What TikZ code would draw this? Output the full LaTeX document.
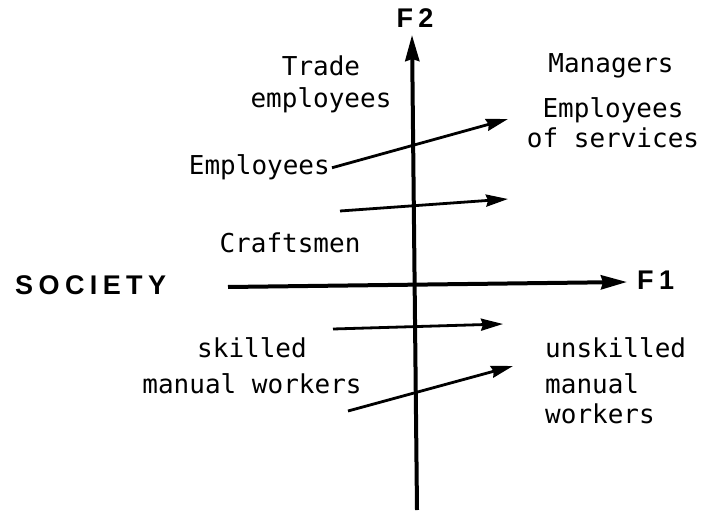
\documentclass[tikz,border=0pt]{standalone}
\usepackage{fontspec}
\newfontfamily\axisfont[LetterSpace=20]{Liberation Sans Bold}
\newfontfamily\typefont{DejaVu Sans Mono}
\usetikzlibrary{arrows.meta}

\begin{document}
\begin{tikzpicture}[x=1pt, y=-1pt,
        axis/.style={line width=4pt, -{Stealth[length=26pt, width=14pt, inset=2pt]}},
        move arrow/.style={line width=2.8pt, -{Stealth[length=22pt, width=12pt, inset=2pt]}},
        axis label/.style={font=\axisfont\fontsize{27}{30}\selectfont, inner sep=0pt},
        group/.style={font=\typefont\fontsize{26}{32}\selectfont, inner sep=0pt}]
        \useasboundingbox (0,0) rectangle (703,513);

        % axes
        \coordinate (f2 base) at (417,510);
        \coordinate (f2 tip)  at (412,35);
        \coordinate (f1 base) at (228,287);
        \coordinate (f1 tip)  at (627,282);
        \node[axis label, anchor=base]      (f2)      at (415,28)  {F2};
        \node[axis label, anchor=base west] (f1)      at (637,289) {F1};
        \node[axis label, anchor=base west] (society) at (15,294)  {SOCIETY};

        % groups (base = last line)
        \node[group, anchor=base, align=center]      (trade)     at (321,108) {Trade\\employees};
        \node[group, anchor=base]                    (managers)  at (611,73)  {Managers};
        \node[group, anchor=base, align=center]      (services)  at (613,148) {Employees\\[-2pt]of services};
        \node[group, anchor=base east, inner sep=2pt](employees) at (332,175) {Employees};
        \node[group, anchor=base]                    (craftsmen) at (290,252) {Craftsmen};
        \node[group, anchor=base, align=center]      (skilled)   at (252,393) {skilled\\[4pt]manual workers};
        \node[group, anchor=base west, align=left]   (unskilled) at (545,423) {unskilled\\[4pt]manual\\[-2pt]workers};

        % moves
        \coordinate (emp end)   at (508,119);
        \coordinate (craft a)   at (340,211);
        \coordinate (craft b)   at (508,199);
        \coordinate (skill a)   at (333,329);
        \coordinate (skill b)   at (503,324);
        \coordinate (unskill a) at (348,411);
        \coordinate (unskill b) at (513,366);

        \draw[axis]       (f2 base)        -- (f2 tip);
        \draw[axis]       (f1 base)        -- (f1 tip);
        \draw[move arrow] (employees.east) -- (emp end);
        \draw[move arrow] (craft a)        -- (craft b);
        \draw[move arrow] (skill a)        -- (skill b);
        \draw[move arrow] (unskill a)      -- (unskill b);
\end{tikzpicture}
\end{document}
